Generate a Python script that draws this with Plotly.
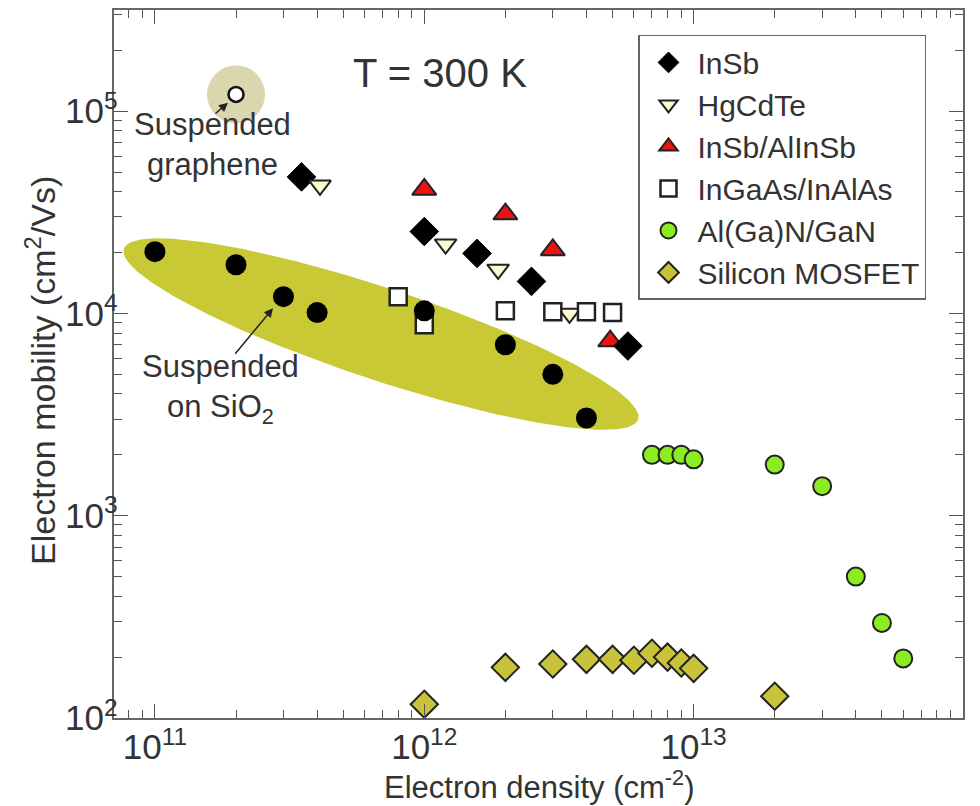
import numpy as np
import plotly.graph_objects as go

# ---------------- data ----------------
graphene_sio2_x = [1e11, 2e11, 3e11, 4e11, 1e12, 2e12, 3e12, 4e12]
graphene_sio2_y = [2.02e4, 1.74e4, 1.21e4, 1.01e4, 1.03e4, 7.0e3, 5.0e3, 3.04e3]

susp_graphene_x = [2e11]
susp_graphene_y = [1.21e5]

insb_x = [3.5e11, 1.0e12, 1.57e12, 2.5e12, 5.7e12]
insb_y = [4.73e4, 2.54e4, 1.98e4, 1.44e4, 6.9e3]

hgcdte_x = [4.1e11, 1.2e12, 1.88e12, 3.46e12]
hgcdte_y = [4.3e4, 2.2e4, 1.65e4, 1.0e4]

insb_alinsb_x = [1.0e12, 2.0e12, 3.0e12, 4.9e12]
insb_alinsb_y = [4.1e4, 3.1e4, 2.06e4, 7.3e3]

ingaas_x = [8e11, 1e12, 2e12, 3e12, 4e12, 5e12]
ingaas_y = [1.21e4, 8.8e3, 1.03e4, 1.02e4, 1.02e4, 1.01e4]

gan_x = [7e12, 8e12, 9e12, 1e13, 2e13, 3e13, 4e13, 5e13, 6e13]
gan_y = [2.0e3, 2.0e3, 2.0e3, 1.9e3, 1.79e3, 1.4e3, 500, 295, 197]

si_x = [1e12, 2e12, 3e12, 4e12, 5e12, 6e12, 7e12, 8e12, 9e12, 1e13, 2e13]
si_y = [117, 178, 185, 195, 195, 193, 209, 200, 187, 176, 128]

# ---------------- layout geometry ----------------
X_RANGE = [10.848, 14.0]
Y_RANGE = [2.0, 5.5]
ML, MR, MT, MB = 114, 17, 8, 88
W, H = 980, 806
PW, PH = W - ML - MR, H - MT - MB
kx = PW / (X_RANGE[1] - X_RANGE[0])
ky = PH / (Y_RANGE[1] - Y_RANGE[0])

FONT = "Liberation Sans, Arial, Helvetica, sans-serif"
TXT = "#333333"


def px2x(px):
    return X_RANGE[0] + (px - ML) / kx


def py2y(py):
    return Y_RANGE[0] + ((H - MB) - py) / ky


fig = go.Figure()

# decorative ellipse around the graphene-on-SiO2 points (pixel geometry)
cxp = 381 - ML
cyp = (H - MB) - 333
a_px, b_px, theta = 271, 46, np.deg2rad(-18.4)
t = np.linspace(0, 2 * np.pi, 241)
ex = cxp + a_px * np.cos(t) * np.cos(theta) - b_px * np.sin(t) * np.sin(theta)
ey = cyp + a_px * np.cos(t) * np.sin(theta) + b_px * np.sin(t) * np.cos(theta)
fig.add_trace(go.Scatter(
    x=10 ** (X_RANGE[0] + ex / kx), y=10 ** (Y_RANGE[0] + ey / ky),
    mode="lines", fill="toself", fillcolor="#c9c935",
    line=dict(width=0, color="#c9c935"), hoverinfo="skip", showlegend=False))

# halo around suspended graphene
fig.add_trace(go.Scatter(
    x=susp_graphene_x, y=susp_graphene_y, mode="markers",
    marker=dict(size=58, color="rgba(188,180,105,0.55)", line=dict(width=0)),
    hoverinfo="skip", showlegend=False))

fig.add_trace(go.Scatter(
    x=si_x, y=si_y, mode="markers", name="Silicon MOSFET", legendrank=6,
    marker=dict(symbol="diamond", size=21, color="#c8c33a",
                line=dict(width=2, color="#222222"))))

fig.add_trace(go.Scatter(
    x=gan_x, y=gan_y, mode="markers", name="Al(Ga)N/GaN", legendrank=5,
    marker=dict(symbol="circle", size=18, color="#8cec22",
                line=dict(width=2, color="#222222"))))

fig.add_trace(go.Scatter(
    x=insb_alinsb_x, y=insb_alinsb_y, mode="markers", name="InSb/AlInSb", legendrank=3,
    marker=dict(symbol="triangle-up", size=21, color="#ee1111",
                line=dict(width=2, color="#222222"))))

fig.add_trace(go.Scatter(
    x=insb_x, y=insb_y, mode="markers", name="InSb", legendrank=1,
    marker=dict(symbol="diamond", size=22, color="#000000",
                line=dict(width=1, color="#000000"))))

fig.add_trace(go.Scatter(
    x=hgcdte_x, y=hgcdte_y, mode="markers", name="HgCdTe", legendrank=2,
    marker=dict(symbol="triangle-down", size=19, color="#fbfbcf",
                line=dict(width=2, color="#222222"))))

fig.add_trace(go.Scatter(
    x=ingaas_x, y=ingaas_y, mode="markers", name="InGaAs/InAlAs", legendrank=4,
    marker=dict(symbol="square", size=17, color="#ffffff",
                line=dict(width=2.5, color="#222222"))))

fig.add_trace(go.Scatter(
    x=graphene_sio2_x, y=graphene_sio2_y, mode="markers",
    marker=dict(symbol="circle", size=21, color="#000000",
                line=dict(width=0)), showlegend=False))

fig.add_trace(go.Scatter(
    x=susp_graphene_x, y=susp_graphene_y, mode="markers",
    marker=dict(symbol="circle", size=15, color="#ffffff",
                line=dict(width=2.5, color="#111111")), showlegend=False))


def label(px, py, text, size=31, **kw):
    return dict(x=px2x(px), y=py2y(py), text=text, showarrow=False,
                font=dict(size=size, color=TXT, family=FONT), **kw)


annotations = [
    label(440, 71, "T = 300 K", size=40),
    label(212, 143, "Suspended<br>graphene"),
    label(220, 388, "Suspended<br>on SiO<sub>2</sub>"),
    dict(x=px2x(228), y=py2y(101), text="", showarrow=True, ax=-14, ay=12,
         arrowhead=2, arrowsize=1.2, arrowwidth=1.5, arrowcolor="#222222"),
    dict(x=px2x(273), y=py2y(307), text="", showarrow=True, ax=-39, ay=47,
         arrowhead=2, arrowsize=1.2, arrowwidth=1.5, arrowcolor="#222222"),
    # axis titles
    dict(xref="paper", yref="paper", x=(539 - ML) / PW, y=-(785 - (H - MB)) / PH,
         text="Electron density (cm<sup>-2</sup>)", showarrow=False,
         xanchor="center", yanchor="middle",
         font=dict(size=31, color=TXT, family=FONT)),
    dict(xref="paper", yref="paper", x=-(ML - 41) / PW, y=((H - MB) - 370) / PH,
         text="Electron mobility (cm<sup>2</sup>/Vs)", showarrow=False, textangle=-90,
         xanchor="center", yanchor="middle",
         font=dict(size=34, color=TXT, family=FONT)),
]

axis_common = dict(
    type="log", dtick=1, exponentformat="power", showexponent="all",
    showgrid=False, zeroline=False, showline=True, linecolor="#666666", linewidth=1.5,
    mirror="allticks", ticks="inside", ticklen=14, tickwidth=1.2, tickcolor="#555555",
    tickfont=dict(size=28, color=TXT, family=FONT),
    minor=dict(ticks="inside", ticklen=8, tickwidth=1.2, tickcolor="#555555", showgrid=False),
)

fig.update_layout(
    width=W, height=H, autosize=False,
    margin=dict(l=ML, r=MR, t=MT, b=MB),
    paper_bgcolor="white", plot_bgcolor="white",
    font=dict(family=FONT, color=TXT),
    xaxis=dict(axis_common, range=X_RANGE, ticklabelstandoff=-1),
    yaxis=dict(axis_common, range=Y_RANGE, ticklabelstandoff=-11),
    legend=dict(x=(638 - ML) / PW, y=((H - MB) - 33) / PH, xanchor="left", yanchor="top",
                bordercolor="#666666", borderwidth=1.5, bgcolor="white",
                font=dict(size=30, color=TXT, family=FONT), itemwidth=48,
                tracegroupgap=0),
    annotations=annotations,
    showlegend=True,
)

fig.write_html("out.html")
